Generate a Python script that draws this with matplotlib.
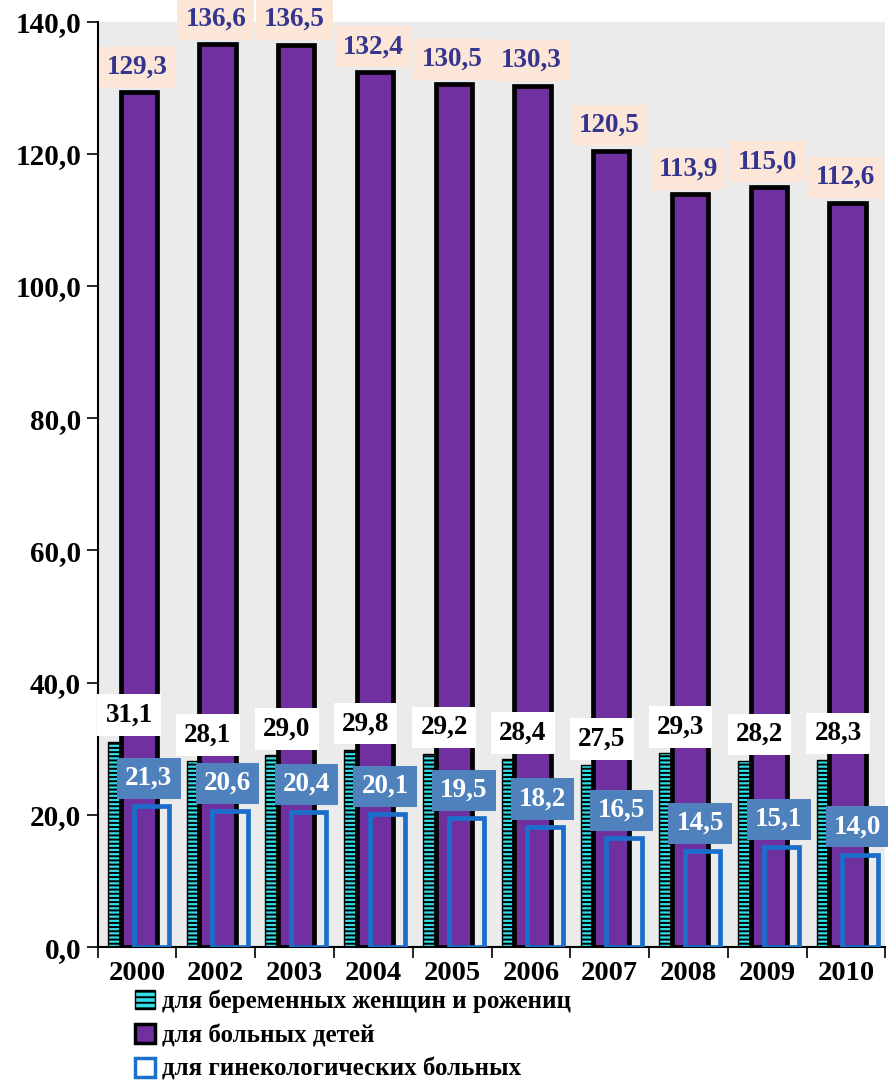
import matplotlib.pyplot as plt
import numpy as np
from matplotlib.patches import Patch

plt.rcParams['font.family'] = ['Liberation Serif', 'DejaVu Serif']
plt.rcParams['font.weight'] = 'bold'
plt.rcParams['hatch.linewidth'] = 1.4

years = ['2000', '2002', '2003', '2004', '2005', '2006', '2007', '2008', '2009', '2010']
pregnant = [31.1, 28.1, 29.0, 29.8, 29.2, 28.4, 27.5, 29.3, 28.2, 28.3]
children = [129.3, 136.6, 136.5, 132.4, 130.5, 130.3, 120.5, 113.9, 115.0, 112.6]
gynecology = [21.3, 20.6, 20.4, 20.1, 19.5, 18.2, 16.5, 14.5, 15.1, 14.0]
series_names = ['для беременных женщин и рожениц', 'для больных детей',
                'для гинекологических больных']


def fmt(v):
    return '{:.1f}'.format(v).replace('.', ',')


x = np.arange(len(years))

fig = plt.figure(figsize=(8.88, 10.8), dpi=100)
ax = fig.add_axes([0.110, 0.123, 0.887, 0.857])
ax.set_facecolor('#ebebeb')

ax.bar(x - 0.29, pregnant, width=0.16, color='#33dde8', edgecolor='black',
       hatch='----', linewidth=1.0, zorder=2)
ax.bar(x + 0.02, children, width=0.46, color='#7030a0', edgecolor='black',
       linewidth=3.4, zorder=3)
ax.bar(x + 0.18, gynecology, width=0.45, facecolor='none', edgecolor='#1b6fcb',
       linewidth=3.4, zorder=4)

for i in range(len(years)):
    ax.text(x[i], children[i] + 3.8, fmt(children[i]), ha='center', va='center',
            fontsize=19.5, color='#35358f', zorder=6,
            bbox=dict(boxstyle='square,pad=0.3', fc='#fbe6d8', ec='none'))
    ax.text(x[i] - 0.1, pregnant[i] + 4.0, fmt(pregnant[i]), ha='center', va='center',
            fontsize=19.5, color='black', zorder=6,
            bbox=dict(boxstyle='square,pad=0.3', fc='white', ec='none'))
    ax.text(x[i] + 0.15, gynecology[i] + 4.2, fmt(gynecology[i]), ha='center', va='center',
            fontsize=19.5, color='white', zorder=7,
            bbox=dict(boxstyle='square,pad=0.3', fc='#4f81bd', ec='none'))

ax.set_xlim(-0.5, len(years) - 0.5)
ax.set_ylim(0, 140)
ax.set_yticks(np.arange(0, 141, 20))
ax.set_yticklabels([fmt(v) for v in np.arange(0, 141, 20)], fontsize=21)
ax.set_xticks(x)
ax.set_xticklabels(years, fontsize=20.5)
ax.set_xticks(np.arange(-0.5, len(years), 1), minor=True)
ax.tick_params(axis='x', which='major', length=0, pad=10)
ax.tick_params(axis='x', which='minor', length=8, width=1.2, direction='out')
ax.tick_params(axis='y', length=8, width=1.2, direction='out', pad=4)

for s in ['top', 'right']:
    ax.spines[s].set_visible(False)
for s in ['left', 'bottom']:
    ax.spines[s].set_linewidth(1.5)

handles = [
    Patch(facecolor='#33dde8', edgecolor='black', hatch='---', linewidth=1.0),
    Patch(facecolor='#7030a0', edgecolor='black', linewidth=2.5),
    Patch(facecolor='white', edgecolor='#1b6fcb', linewidth=2.5),
]
fig.legend(handles, series_names, loc='upper left', bbox_to_anchor=(0.152, 0.0835),
           frameon=False, fontsize=18, handlelength=0.8, handleheight=0.8,
           handletextpad=0.3, labelspacing=0.42, borderpad=0, borderaxespad=0)

fig.savefig('out.png', dpi=100)
